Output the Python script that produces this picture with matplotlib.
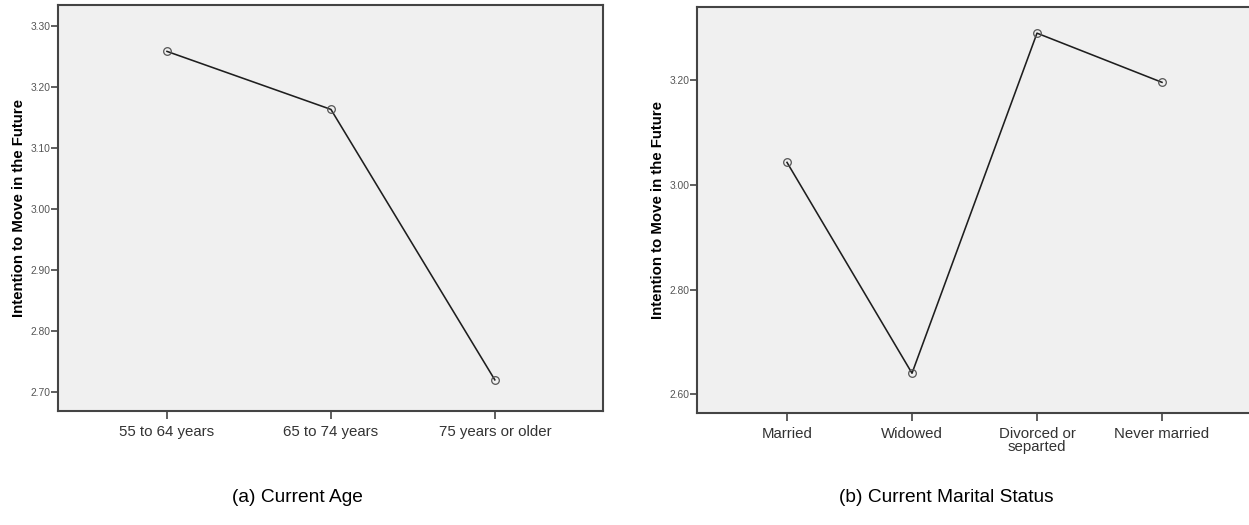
import numpy as np
import matplotlib as mpl
mpl.use("Agg")
import matplotlib.pyplot as plt

# data
age_labels = ["55 to 64 years", "65 to 74 years", "75 years or older"]
age_means = [3.258, 3.163, 2.720]

marital_labels = ["Married", "Widowed", "Divorced or\nseparted", "Never married"]
marital_means = [3.043, 2.640, 3.290, 3.196]

age_ticks = [2.70, 2.80, 2.90, 3.00, 3.10, 3.20, 3.30]
marital_ticks = [2.60, 2.80, 3.00, 3.20]

plt.rcParams["font.family"] = ["Liberation Sans", "DejaVu Sans"]

fig = plt.figure(figsize=(12.49, 5.25), dpi=100)
W, H = 1249.0, 525.0

ax1 = fig.add_axes([58 / W, (H - 411) / H, (603 - 58) / W, 406 / H])
ax2 = fig.add_axes([697 / W, (H - 413) / H, (1252 - 697) / W, 406 / H])


def style(ax, labels, means, ticks, ylim, xlim):
    x = np.arange(len(labels))
    ax.set_facecolor("#f0f0f0")
    ax.plot(x, means, color="#1e1e1e", lw=1.15, zorder=2)
    ax.plot(x, means, ls="none", marker="o", ms=5.5, mfc="none",
            mec="#555555", mew=0.9, zorder=3)
    ax.set_xlim(*xlim)
    ax.set_ylim(*ylim)
    ax.set_xticks(x)
    ax.set_xticklabels(labels, fontsize=10.8, color="#333333", linespacing=0.95)
    ax.set_yticks(ticks)
    ax.set_yticklabels(["%.2f" % t for t in ticks], fontsize=7.4, color="#555555")
    ax.tick_params(axis="y", length=5, width=1.2, color="#444444", pad=0.5)
    ax.tick_params(axis="x", length=6, width=1.2, color="#444444", pad=4)
    for s in ax.spines.values():
        s.set_color("#444444")
        s.set_linewidth(1.5)
    ax.set_ylabel("Intention to Move in the Future", fontsize=10.8,
                  fontweight="bold", labelpad=3)


style(ax1, age_labels, age_means, age_ticks, (2.669, 3.334), (-0.665, 2.66))
style(ax2, marital_labels, marital_means, marital_ticks, (2.564, 3.340), (-0.72, 3.72))

fig.text(297 / W, 1 - 497 / H, "(a) Current Age", fontsize=13.8,
         ha="center", va="center")
fig.text(946 / W, 1 - 497 / H, "(b) Current Marital Status", fontsize=13.8,
         ha="center", va="center")

fig.savefig("out.png", dpi=100, facecolor="white")
